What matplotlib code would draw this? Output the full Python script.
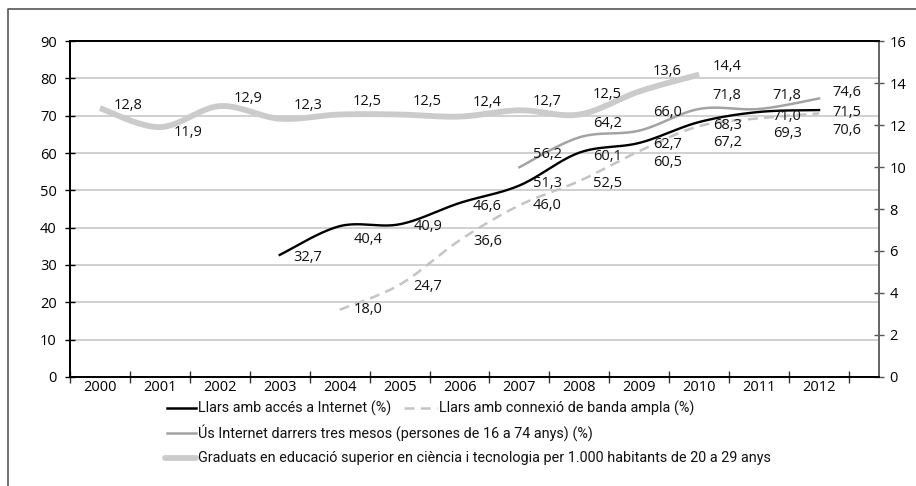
import numpy as np
import matplotlib
matplotlib.use("Agg")
import matplotlib.pyplot as plt
from matplotlib.lines import Line2D

# ----------------------------
# Data
# ----------------------------
years = ["2000", "2001", "2002", "2003", "2004", "2005", "2006",
         "2007", "2008", "2009", "2010", "2011", "2012"]

# Llars amb accés a Internet (%) - 2003..2012
internet_years = years[3:]
internet_vals = [32.7, 40.4, 40.9, 46.6, 51.3, 60.1, 62.7, 68.3, 71.0, 71.5]

# Llars amb connexió de banda ampla (%) - 2004..2012
broadband_years = years[4:]
broadband_vals = [18.0, 24.7, 36.6, 46.0, 52.5, 60.5, 67.2, 69.3, 70.6]

# Ús Internet darrers tres mesos (%) - 2007..2012
usage_years = years[7:]
usage_vals = [56.2, 64.2, 66.0, 71.8, 71.8, 74.6]

# Graduats per 1.000 habitants (eix dret) - 2000..2010
grad_years = years[:11]
grad_vals = [12.8, 11.9, 12.9, 12.3, 12.5, 12.5, 12.4, 12.7, 12.5, 13.6, 14.4]

# ----------------------------
# Style
# ----------------------------
NUM_FONT = ["Open Sans", "DejaVu Sans"]
LEG_FONT = ["Roboto", "DejaVu Sans"]

# label vertical offsets in pixels (screen down positive)
internet_dy = [3, 13, 2, 3, -2, 4, 2, 3, 5, 2]
broadband_dy = [0, 2, 1, 0, 2, 11, 16, 15, 17]
usage_dy = [-13, -14, -18, -13, -13, -6]
grad_dy = [-3, 5, -8, -13, -13, -13, -14, -9, -20, -20, -8]


def smooth(xs, ys, n=24):
    # Excel-like smoothed line (Catmull-Rom bezier)
    xs = np.asarray(xs, float)
    ys = np.asarray(ys, float)
    px = np.concatenate([[xs[0]], xs, [xs[-1]]])
    py = np.concatenate([[ys[0]], ys, [ys[-1]]])
    outx, outy = [], []
    t = np.linspace(0, 1, n)
    for i in range(1, len(px) - 2):
        p0 = np.array([px[i], py[i]])
        p3 = np.array([px[i + 1], py[i + 1]])
        c1 = p0 + (np.array([px[i + 1], py[i + 1]]) - np.array([px[i - 1], py[i - 1]])) / 6
        c2 = p3 - (np.array([px[i + 2], py[i + 2]]) - np.array([px[i], py[i]])) / 6
        b = ((1 - t) ** 3)[:, None] * p0 + (3 * (1 - t) ** 2 * t)[:, None] * c1 \
            + (3 * (1 - t) * t ** 2)[:, None] * c2 + (t ** 3)[:, None] * p3
        outx.extend(b[:, 0])
        outy.extend(b[:, 1])
    return np.array(outx), np.array(outy)


def pos(labels):
    return [years.index(y) for y in labels]


fig = plt.figure(figsize=(9.16, 4.86), dpi=100)
W, H = 916, 486
ax = fig.add_axes([70 / W, 1 - 377 / H, (879 - 70) / W, (377 - 41) / H])
ax2 = ax.twinx()

ax.set_xlim(-0.5, 13.0)
ax.set_ylim(0, 90)
ax2.set_ylim(0, 16)

ax.set_yticks(range(0, 91, 10))
ax2.set_yticks(range(0, 17, 2))
ax.yaxis.grid(True, color="#c8c8c8", linewidth=1.2)
ax.set_axisbelow(True)

ax.set_xticks(np.arange(-0.5, 13, 1.0))
ax.set_xticklabels([])
ax.set_xticks(range(len(years)), minor=True)
ax.set_xticklabels(years, minor=True, fontsize=10.5, family=NUM_FONT)
ax.tick_params(axis="x", which="major", direction="inout", length=8, width=1, color="#333333")
ax.tick_params(axis="x", which="minor", length=0, pad=2)
ax.tick_params(axis="y", direction="inout", length=7, width=1, labelsize=10.5, pad=6)
ax2.tick_params(axis="y", direction="inout", length=7, width=1, labelsize=10.5, pad=4,
                color="#555555")
for lab in ax.get_yticklabels() + ax2.get_yticklabels():
    lab.set_family(NUM_FONT)

for a in (ax, ax2):
    a.spines["left"].set_color("black")
    a.spines["bottom"].set_color("black")
    a.spines["top"].set_color("black")
    a.spines["right"].set_color("#666666")
    for s in a.spines.values():
        s.set_linewidth(1.3)

# series
gx, gy = smooth(pos(grad_years), grad_vals)
ax2.plot(gx, gy, color="#cbcbcb", linewidth=4.2, solid_capstyle="butt", zorder=2)

ux, uy = smooth(pos(usage_years), usage_vals)
ax.plot(ux, uy, color="#a3a3a3", linewidth=1.8, zorder=3)

bx, by = smooth(pos(broadband_years), broadband_vals)
ax.plot(bx, by, color="#c4c4c4", linewidth=1.8, dashes=(4, 2.5), zorder=3)

ix, iy = smooth(pos(internet_years), internet_vals)
ax.plot(ix, iy, color="black", linewidth=1.7, zorder=4)


def put_labels(a, labels, vals, dys):
    for x, v, dy in zip(pos(labels), vals, dys):
        a.annotate(f"{v:.1f}".replace(".", ","), (x, v), xytext=(28, -dy),
                   textcoords="offset pixels", ha="center", va="center",
                   fontsize=10.5, family=NUM_FONT, color="#111111", zorder=6)


put_labels(ax2, grad_years, grad_vals, grad_dy)
put_labels(ax, internet_years, internet_vals, internet_dy)
put_labels(ax, broadband_years, broadband_vals, broadband_dy)
put_labels(ax, usage_years, usage_vals, usage_dy)

# legend (drawn by hand to follow the layout)
legend_items = [
    (167, 196, 408, dict(color="black", linewidth=1.8), "Llars amb accés a Internet (%)"),
    (404, 437, 408, dict(color="#c4c4c4", linewidth=1.8, dashes=(4, 2.5)),
     "Llars amb connexió de banda ampla (%)"),
    (167, 196, 433, dict(color="#a3a3a3", linewidth=1.8), "Ús Internet darrers tres mesos (persones de 16 a 74 anys) (%)"),
    (165, 196, 458, dict(color="#cbcbcb", linewidth=4.2, solid_capstyle="round"),
     "Graduats en educació superior en ciència i tecnologia per 1.000 habitants de 20 a 29 anys"),
]
for x0, x1, y, kw, text in legend_items:
    fig.add_artist(Line2D([x0 / W, x1 / W], [1 - y / H, 1 - y / H], transform=fig.transFigure, **kw))
    fig.text((x1 + 2) / W, 1 - y / H, text, ha="left", va="center", fontsize=10.4,
             family=LEG_FONT, color="#111111")

# outer frame
fig.add_artist(Line2D([8 / W, 8 / W, 1.0], [0.0, 1 - 9.5 / H, 1 - 9.5 / H],
                      transform=fig.transFigure, color="#555555", linewidth=1.2))

fig.savefig("out.png", dpi=100)
